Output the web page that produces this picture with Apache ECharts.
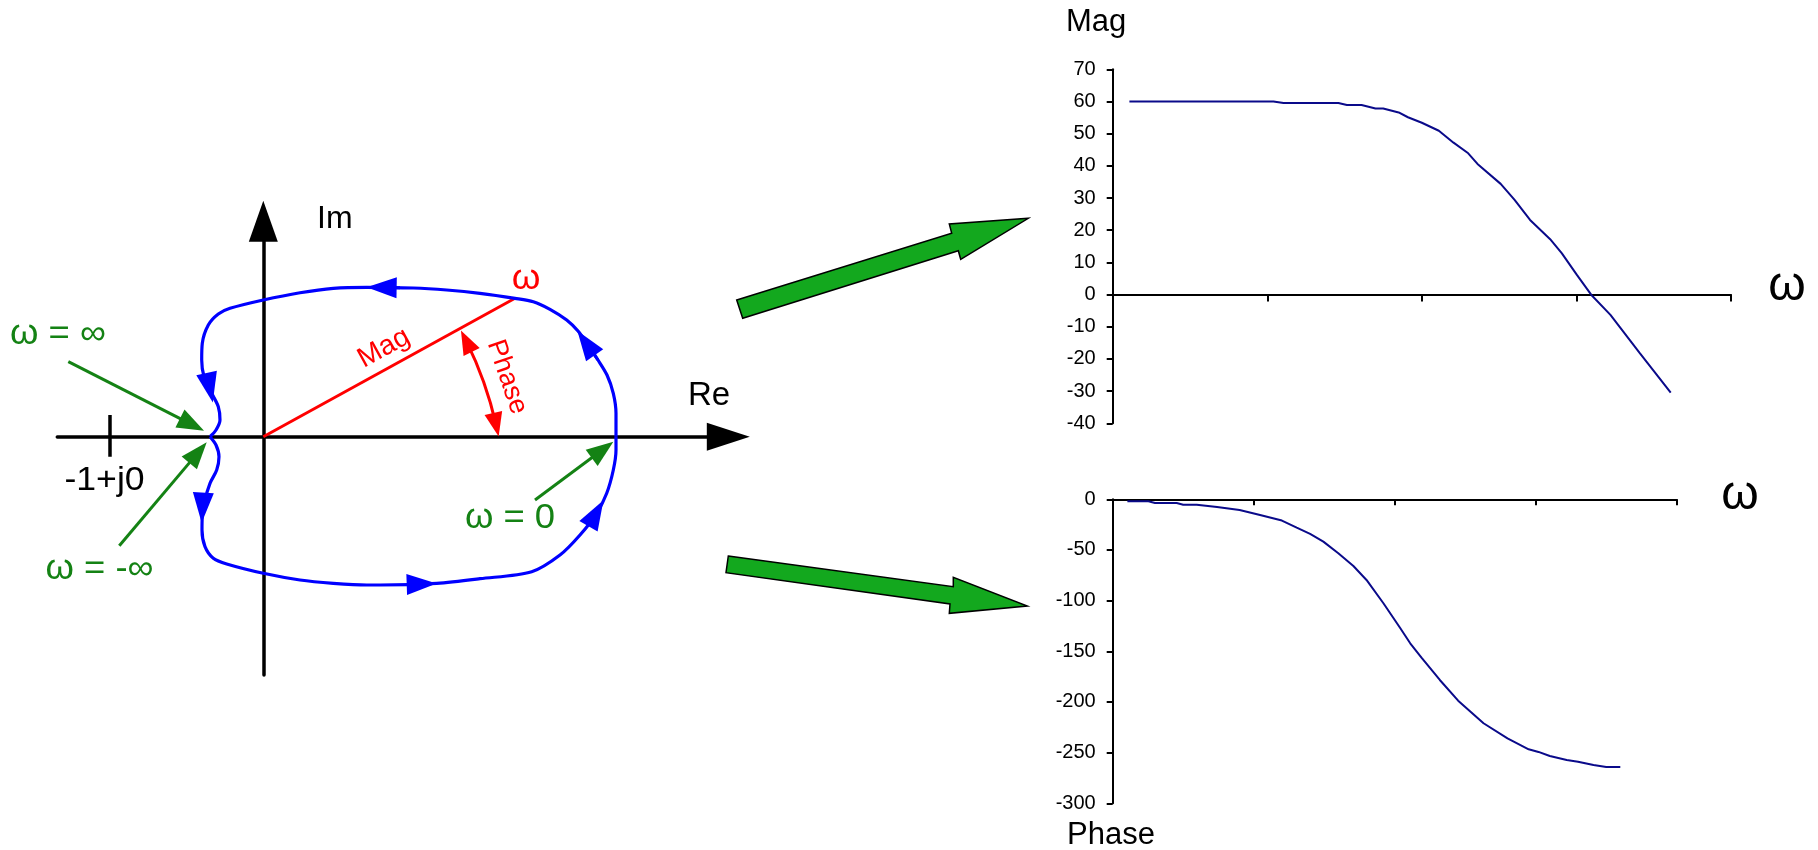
<!DOCTYPE html>
<html><head><meta charset="utf-8">
<script src="https://cdn.jsdelivr.net/npm/echarts@6/dist/echarts.min.js"></script>
<style>html,body{margin:0;padding:0;background:#fff;}#c{width:1818px;height:850px;}</style>
</head><body><div id="c"></div>
<script>
// ---------- Bode magnitude (omega axis position, dB) ----------
const magOmega = [0.108, 1.04, 1.105, 1.46, 1.515, 1.61, 1.70, 1.75, 1.85, 1.91, 2.0, 2.11, 2.205, 2.30, 2.36, 2.51, 2.60, 2.70, 2.83, 2.906, 3.003, 3.10, 3.22, 3.41, 3.61];
const magDb = [60, 60, 59.5, 59.5, 58.9, 58.9, 57.8, 57.8, 56.6, 55.1, 53.4, 50.9, 47.2, 43.9, 40.6, 34.4, 29.4, 23.2, 17.2, 12.8, 6.1, -0.3, -6.3, -18.2, -30.5];
// ---------- Bode phase (omega axis position, degrees) ----------
const phaseOmega = [0.104, 0.253, 0.30, 0.454, 0.50, 0.596, 0.74, 0.90, 1.045, 1.2, 1.305, 1.40, 1.494, 1.60, 1.707, 1.80, 1.92, 2.04, 2.11, 2.19, 2.32, 2.45, 2.63, 2.80, 2.95, 3.02, 3.10, 3.22, 3.30, 3.41, 3.50, 3.60];
const phaseDeg = [-2, -2, -3.6, -3.6, -5.3, -5.3, -7.6, -10.5, -15.5, -21, -28, -34.2, -41.8, -53.3, -65.8, -79.6, -102.6, -127.3, -142.1, -156.3, -178.3, -198.7, -221, -235.9, -246.7, -249.3, -253.3, -257.2, -258.9, -262.2, -264.1, -264.1];
// ---------- Nyquist contour (Re, Im) ----------
const nyqUpperRe = [2.3007, 2.3007, 2.2831, 2.2420, 2.1833, 2.1181, 2.0528, 1.9791, 1.8702, 1.7613, 1.6419, 1.4136, 1.1963, 0.9785, 0.6745, 0.4566, 0.2394, 0, -0.2172, -0.2935, -0.3588, -0.3979, -0.4018, -0.3868, -0.3366, -0.2935, -0.2825, -0.3085, -0.3477];
const nyqUpperIm = [0, 0.1526, 0.2831, 0.4025, 0.5003, 0.5982, 0.6895, 0.7613, 0.8311, 0.8806, 0.9028, 0.9354, 0.9569, 0.9700, 0.9746, 0.9680, 0.9393, 0.8917, 0.8376, 0.8004, 0.7286, 0.6093, 0.5003, 0.3914, 0.2831, 0.1957, 0.1089, 0.0437, 0];
const nyqLowerRe = [-0.3477, -0.3085, -0.2890, -0.3040, -0.3477, -0.3803, -0.3979, -0.3999, -0.3803, -0.3262, -0.2387, 0, 0.2394, 0.4566, 0.6745, 0.7613, 1.1311, 1.4136, 1.7508, 1.9354, 2.0659, 2.1748, 2.2401, 2.2831, 2.3007, 2.3007];
const nyqLowerIm = [0, -0.0541, -0.1305, -0.2172, -0.3040, -0.4129, -0.5219, -0.6086, -0.7175, -0.7932, -0.8304, -0.8911, -0.9348, -0.9563, -0.9674, -0.9674, -0.9563, -0.9263, -0.8806, -0.7717, -0.6412, -0.4997, -0.3692, -0.2172, -0.0868, 0];
// direction arrows on the contour: [fromRe, fromIm, toRe, toIm]
const flowArrows = [
  [0.892, 0.971, 0.772, 0.973],
  [2.1833, 0.5003, 2.1050, 0.6112],
  [-0.3692, 0.411, -0.3497, 0.3196],
  [-0.3914, -0.3718, -0.3966, -0.4631],
  [0.9354, -0.9641, 1.0333, -0.9609],
  [2.123, -0.581, 2.170, -0.499]
];
// annotation pointers: [fromRe, fromIm, toRe, toIm]
const omegaPointers = [
  [-1.2720, 0.4892, -0.4651, 0.0789],
  [-0.9393, -0.7110, -0.4260, -0.1037],
  [1.7723, -0.4129, 2.2127, -0.0855]
];
const magVector = [0, 0, 1.6419, 0.9028];
const phaseArc = [1.3242, 0.6230, 1.5180, 0.0783];
const criticalPoint = [-1, 0.1416, -1, -0.1305];

const FONT = '"Liberation Sans", Arial, sans-serif';
const BLUE = '#0000ff', RED = '#ff0000', GREEN = '#148214', NAVY = '#0a0a8a';

const zip = (a, b) => a.map((v, i) => [v, b[i]]);
const seg = (s) => ({ coords: [[s[0], s[1]], [s[2], s[3]]] });

const chart = echarts.init(document.getElementById('c'), null, { renderer: 'canvas' });

function txt(text, x, y, size, color, opts) {
  opts = opts || {};
  return {
    type: 'text', x: x, y: y, rotation: opts.rot || 0, scaleX: opts.sx || 1,
    style: { text: text, font: size + 'px ' + FONT, fill: color,
      align: opts.align || 'center', verticalAlign: 'middle' }
  };
}

const noSplit = { show: false };
const option = {
  animation: false,
  backgroundColor: '#ffffff',
  grid: [
    { left: 57.3, top: 221.2, width: 671, height: 453.8, containLabel: false, outerBoundsMode: 'none' },
    { left: 1112.7, top: 69.3, width: 618.3, height: 354, containLabel: false, outerBoundsMode: 'none' },
    { left: 1112.7, top: 499.3, width: 564, height: 304, containLabel: false, outerBoundsMode: 'none' }
  ],
  xAxis: [
    { gridIndex: 0, type: 'value', min: -1.34377, max: 3.03327,
      axisLine: { onZero: true, symbol: ['none', 'triangle'], symbolSize: [28, 43], lineStyle: { color: '#000', width: 3.5 } },
      axisTick: { show: false }, axisLabel: { show: false }, splitLine: noSplit },
    { gridIndex: 1, type: 'value', min: 0, max: 4, interval: 1,
      axisLine: { onZero: true, lineStyle: { color: '#000', width: 2 } },
      axisTick: { show: true, length: 7, lineStyle: { color: '#000', width: 2 } },
      axisLabel: { show: false }, splitLine: noSplit },
    { gridIndex: 2, type: 'value', min: 0, max: 4, interval: 1,
      axisLine: { onZero: true, lineStyle: { color: '#000', width: 2 } },
      axisTick: { show: true, length: 6, lineStyle: { color: '#000', width: 2 } },
      axisLabel: { show: false }, splitLine: noSplit }
  ],
  yAxis: [
    { gridIndex: 0, type: 'value', min: -1.55447, max: 1.40574,
      axisLine: { onZero: true, symbol: ['none', 'triangle'], symbolSize: [29, 41], lineStyle: { color: '#000', width: 3.5 } },
      axisTick: { show: false }, axisLabel: { show: false }, splitLine: noSplit },
    { gridIndex: 1, type: 'value', min: -40, max: 70, interval: 10,
      axisLine: { show: true, onZero: false, lineStyle: { color: '#000', width: 2 } },
      axisTick: { show: true, length: 6, lineStyle: { color: '#000', width: 2 } },
      axisLabel: { color: '#000', fontSize: 20, fontFamily: FONT, margin: 17 }, splitLine: noSplit },
    { gridIndex: 2, type: 'value', min: -300, max: 0, interval: 50,
      axisLine: { show: true, onZero: false, lineStyle: { color: '#000', width: 2 } },
      axisTick: { show: true, length: 6, lineStyle: { color: '#000', width: 2 } },
      axisLabel: { color: '#000', fontSize: 20, fontFamily: FONT, margin: 17 }, splitLine: noSplit }
  ],
  series: [
    { type: 'line', xAxisIndex: 1, yAxisIndex: 1, data: zip(magOmega, magDb), showSymbol: false, symbol: 'none',
      lineStyle: { color: NAVY, width: 2 }, silent: true },
    { type: 'line', xAxisIndex: 2, yAxisIndex: 2, data: zip(phaseOmega, phaseDeg), showSymbol: false, symbol: 'none',
      lineStyle: { color: NAVY, width: 2 }, silent: true },
    { type: 'line', xAxisIndex: 0, yAxisIndex: 0, data: zip(nyqUpperRe, nyqUpperIm), smooth: 0.3, symbol: 'none',
      lineStyle: { color: BLUE, width: 3.2 }, silent: true },
    { type: 'line', xAxisIndex: 0, yAxisIndex: 0, data: zip(nyqLowerRe, nyqLowerIm), smooth: 0.3, symbol: 'none',
      lineStyle: { color: BLUE, width: 3.2 }, silent: true },
    { type: 'line', xAxisIndex: 0, yAxisIndex: 0, data: [[criticalPoint[0], criticalPoint[1]], [criticalPoint[2], criticalPoint[3]]],
      symbol: 'none', lineStyle: { color: '#000', width: 3.5 }, silent: true },
    { type: 'lines', coordinateSystem: 'cartesian2d', xAxisIndex: 0, yAxisIndex: 0, silent: true,
      data: flowArrows.map(seg), symbol: ['none', 'triangle'], symbolSize: [[21, 30], [21, 30]],
      lineStyle: { color: BLUE, width: 3, opacity: 1, curveness: 0 } },
    { type: 'lines', coordinateSystem: 'cartesian2d', xAxisIndex: 0, yAxisIndex: 0, silent: true,
      data: [seg(magVector)], symbol: ['none', 'none'],
      lineStyle: { color: RED, width: 3, opacity: 1, curveness: 0 } },
    { type: 'lines', coordinateSystem: 'cartesian2d', xAxisIndex: 0, yAxisIndex: 0, silent: true,
      data: [seg(phaseArc)], symbol: ['triangle', 'triangle'], symbolSize: [[18, 24], [18, 24]],
      lineStyle: { color: RED, width: 3, opacity: 1, curveness: 0.06 } },
    { type: 'lines', coordinateSystem: 'cartesian2d', xAxisIndex: 0, yAxisIndex: 0, silent: true,
      data: omegaPointers.map(seg), symbol: ['none', 'triangle'], symbolSize: [[20, 27], [20, 27]],
      lineStyle: { color: GREEN, width: 3, opacity: 1, curveness: 0 } }
  ],
  graphic: [
    { type: 'polygon', shape: { points: [[736.7, 300], [951.7, 233.3], [949.3, 224], [1028.3, 218.3], [960.7, 259.3], [958.3, 250.7], [742.7, 318.3]] },
      style: { fill: '#13a81e', stroke: '#000', lineWidth: 1.5 } },
    { type: 'polygon', shape: { points: [[728.3, 556], [953.3, 586.7], [953.3, 577.3], [1027.3, 606], [949.3, 613.3], [950, 604], [726, 572.7]] },
      style: { fill: '#13a81e', stroke: '#000', lineWidth: 1.5 } },
    txt('Im', 317, 219, 32, '#000', { align: 'left' }),
    txt('Re', 688, 396, 33, '#000', { align: 'left' }),
    txt('-1+j0', 104.5, 481, 33, '#000', { sx: 1.08 }),
    txt('ω = ∞', 58, 334, 35, GREEN, { sx: 1.04 }),
    txt('ω = -∞', 99.5, 569, 35, GREEN, { sx: 1.04 }),
    txt('ω = 0', 510, 518, 35, GREEN, { sx: 1.04 }),
    txt('ω', 526, 279, 35, RED, { sx: 1.05 }),
    txt('Mag', 384, 348, 28, RED, { rot: 0.503 }),
    txt('Phase', 507, 377, 27, RED, { rot: -1.24 }),
    txt('Mag', 1066, 22, 31, '#000', { align: 'left' }),
    txt('Phase', 1067, 835, 31, '#000', { align: 'left' }),
    txt('ω', 1787, 287, 48, '#000'),
    txt('ω', 1740, 496, 48, '#000')
  ]
};
chart.setOption(option);
</script>
</body></html>
